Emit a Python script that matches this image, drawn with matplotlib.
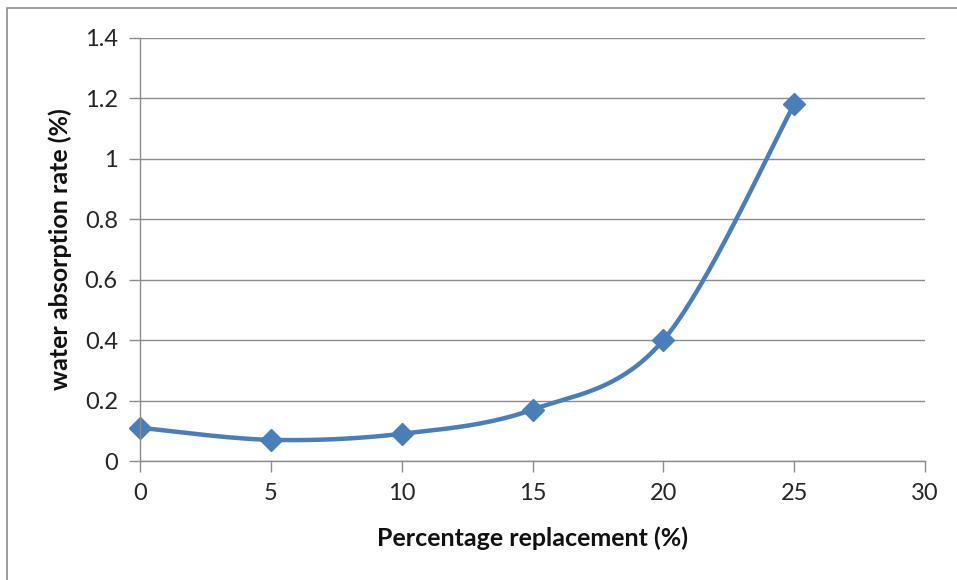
import numpy as np
import matplotlib
matplotlib.use("Agg")
import matplotlib.pyplot as plt
from matplotlib.patches import Rectangle

# Data
replacement = [0, 5, 10, 15, 20, 25]
absorption = [0.11, 0.07, 0.09, 0.17, 0.40, 1.18]
x_ticks = [0, 5, 10, 15, 20, 25, 30]
y_ticks = [0, 0.2, 0.4, 0.6, 0.8, 1, 1.2, 1.4]
y_tick_labels = ["0", "0.2", "0.4", "0.6", "0.8", "1", "1.2", "1.4"]


def excel_smooth(xs, ys, n=40):
    # Bezier smoothing similar to spreadsheet "smoothed line"
    pts = np.column_stack([xs, ys]).astype(float)
    out = [pts[0]]
    for i in range(len(pts) - 1):
        p0 = pts[i - 1] if i > 0 else pts[i]
        p1 = pts[i]
        p2 = pts[i + 1]
        p3 = pts[i + 2] if i + 2 < len(pts) else pts[i + 1]
        c1 = p1 + (p2 - p0) / 6.0
        c2 = p2 - (p3 - p1) / 6.0
        t = np.linspace(0, 1, n)[1:, None]
        seg = ((1 - t) ** 3) * p1 + 3 * ((1 - t) ** 2) * t * c1 \
            + 3 * (1 - t) * t ** 2 * c2 + t ** 3 * p2
        out.extend(seg)
    out = np.array(out)
    return out[:, 0], out[:, 1]


plt.rcParams["font.family"] = ["Lato", "DejaVu Sans"]

fig = plt.figure(figsize=(9.57, 5.80), dpi=100)
ax = fig.add_axes([140 / 957, 1 - 461 / 580, 785 / 957, 423 / 580])

grid_color = "#8c8c8c"
ax.set_xlim(0, 30)
ax.set_ylim(0, 1.4)
ax.set_xticks(x_ticks)
ax.set_yticks(y_ticks)
ax.set_yticklabels(y_tick_labels)
ax.yaxis.grid(True, color=grid_color, linewidth=1.0)
ax.set_axisbelow(True)

for side in ["top", "right"]:
    ax.spines[side].set_visible(False)
for side in ["left", "bottom"]:
    ax.spines[side].set_color(grid_color)
    ax.spines[side].set_linewidth(1.0)

ax.tick_params(axis="both", colors=grid_color, length=8, width=1.0,
               labelsize=17, labelcolor="#262626")
ax.tick_params(axis="x", pad=8)
ax.tick_params(axis="y", pad=8)

sx, sy = excel_smooth(replacement, absorption)
line_color = "#4a7ebb"
ax.plot(sx, sy, color=line_color, linewidth=3.2, clip_on=False,
        solid_capstyle="round")
ax.plot(replacement, absorption, linestyle="none", marker="D",
        markersize=11, color=line_color, clip_on=False)

ax.set_xlabel("Percentage replacement (%)", fontsize=18, fontweight="bold",
              color="#111111")
ax.set_ylabel("water absorption rate (%)", fontsize=18, fontweight="bold",
              color="#111111")
ax.xaxis.set_label_coords(0.5, -(538 - 461) / 423, transform=ax.transAxes)
ax.yaxis.set_label_coords(-(140 - 60) / 785, 0.5, transform=ax.transAxes)
ax.xaxis.label.set_va("center")
ax.yaxis.label.set_va("center")

# outer chart border
fig.patches.append(Rectangle((7 / 957, -0.1), 1.2, 1 - 8 / 580 + 0.1,
                             transform=fig.transFigure, fill=False,
                             edgecolor="#8c8c8c", linewidth=1.2))

fig.savefig("out.png", dpi=100)
